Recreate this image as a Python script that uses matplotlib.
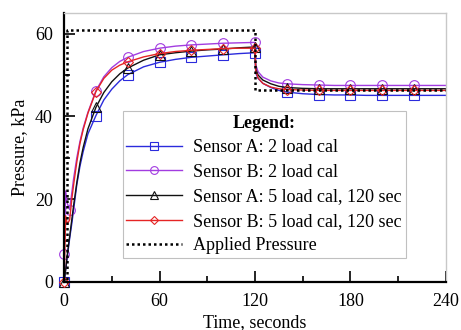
import numpy as np
import matplotlib
matplotlib.use("Agg")
import matplotlib.pyplot as plt
from matplotlib.ticker import MultipleLocator

plt.rcParams['font.family'] = ['Liberation Serif', 'DejaVu Serif']

# sample times (s)
t = [0, 1, 2, 3.5, 5, 6, 8, 10, 12, 15, 20, 25, 30, 35, 40, 50, 60, 70, 80, 90,
     100, 110, 120, 120.5, 122, 125, 130, 135, 140, 150, 160, 170, 180, 190,
     200, 210, 220, 230, 240]

sensor_a_2load = [0, 3, 6, 10.5, 14.5, 17.5, 23.5, 28, 31.5, 35.8, 40.2, 44, 46.6,
                  48.6, 50.1, 52, 53.1, 53.8, 54.3, 54.6, 54.9, 55.2, 55.4, 50.5,
                  49.2, 48, 47, 46.3, 45.9, 45.5, 45.3, 45.2, 45.2, 45.1, 45.1,
                  45.1, 45.1, 45.1, 45.1]
sensor_b_2load = [6.7, 22, 19, 17.5, 22, 25, 30, 34, 37.2, 41, 46.2, 49.6, 51.8,
                  53.3, 54.3, 55.7, 56.5, 57, 57.3, 57.5, 57.7, 57.8, 57.9, 52.5,
                  50.8, 49.5, 48.6, 48.1, 47.9, 47.7, 47.6, 47.5, 47.5, 47.5, 47.5,
                  47.5, 47.5, 47.5, 47.5]
sensor_a_5load = [0, 3, 6.5, 11, 15.5, 18.5, 24, 28.8, 32.5, 37, 42.2, 45.8, 48.4,
                  50.3, 51.7, 53.6, 54.9, 55.4, 55.8, 56.1, 56.3, 56.6, 56.8, 51.5,
                  50, 48.8, 47.9, 47.3, 47, 46.8, 46.7, 46.7, 46.7, 46.7, 46.7,
                  46.7, 46.7, 46.7, 46.7]
sensor_b_5load = [0, 16, 14, 15, 20.5, 23.5, 29, 33.5, 36.8, 40.8, 46, 49.2, 51.2,
                  52.4, 53.2, 54.4, 55.2, 55.7, 56, 56.2, 56.4, 56.5, 56.5, 51,
                  49.3, 48, 47.1, 46.7, 46.5, 46.4, 46.3, 46.3, 46.3, 46.3, 46.3,
                  46.3, 46.3, 46.3, 46.3]

t_applied = [0, 2, 2, 120, 120, 240]
applied = [0, 0, 60.8, 60.8, 46.3, 46.3]

marker_times = [0, 20, 40, 60, 80, 100, 120, 140, 160, 180, 200, 220]

t = np.array(t)
mk = list(np.where(np.isin(t, marker_times))[0])
mk_b = list(np.where(np.isin(t, marker_times + [3.5]))[0])

fig = plt.figure(figsize=(4.61, 3.30), dpi=100)
ax = fig.add_axes([0.139, 0.1455, 0.828, 0.815])

series = [
    (sensor_a_2load, '#2b2bdc', 's', 'Sensor A: 2 load cal', mk),
    (sensor_b_2load, '#a23ce0', 'o', 'Sensor B: 2 load cal', mk_b),
    (sensor_a_5load, '#111111', '^', 'Sensor A: 5 load cal, 120 sec', mk),
    (sensor_b_5load, '#e52424', 'D', 'Sensor B: 5 load cal, 120 sec', mk),
]
for vals, col, m, lab, me in series:
    ms = 5.5 if m == 'D' else 7
    ax.plot(t, vals, color=col, lw=1.0, marker=m, markevery=me, ms=ms,
            mfc='none', mec=col, mew=0.8, label=lab, clip_on=False)

ax.plot(t_applied, applied, color='black', lw=1.8, ls=(0, (1, 1.2)),
        label='Applied Pressure')

ax.set_xlim(0, 240)
ax.set_ylim(0, 65)
ax.xaxis.set_major_locator(MultipleLocator(60))
ax.xaxis.set_minor_locator(MultipleLocator(30))
ax.yaxis.set_major_locator(MultipleLocator(20))
ax.yaxis.set_minor_locator(MultipleLocator(10))
ax.tick_params(which='both', direction='in', top=False, right=False,
               labelsize=13, width=1.2)
ax.tick_params(which='major', length=8, pad=8)
ax.tick_params(which='minor', length=4)

for s in ['left', 'bottom']:
    ax.spines[s].set_linewidth(1.6)
for s in ['top', 'right']:
    ax.spines[s].set_color('#c8c8c8')
    ax.spines[s].set_linewidth(1.0)

ax.set_xlabel('Time, seconds', fontsize=13, labelpad=3)
ax.set_ylabel('Pressure, kPa', fontsize=13, labelpad=5)

leg = ax.legend(loc='upper left', bbox_to_anchor=(0.154, 0.636),
                borderaxespad=0, fontsize=13, title='Legend:',
                title_fontproperties={'weight': 'bold', 'size': 13},
                fancybox=False, framealpha=1, edgecolor='#c0c0c0',
                handlelength=3.1, handletextpad=0.6, borderpad=0.2,
                labelspacing=0.42, markerscale=0.8)
leg.get_frame().set_linewidth(0.8)

fig.savefig('out.png', dpi=100)
